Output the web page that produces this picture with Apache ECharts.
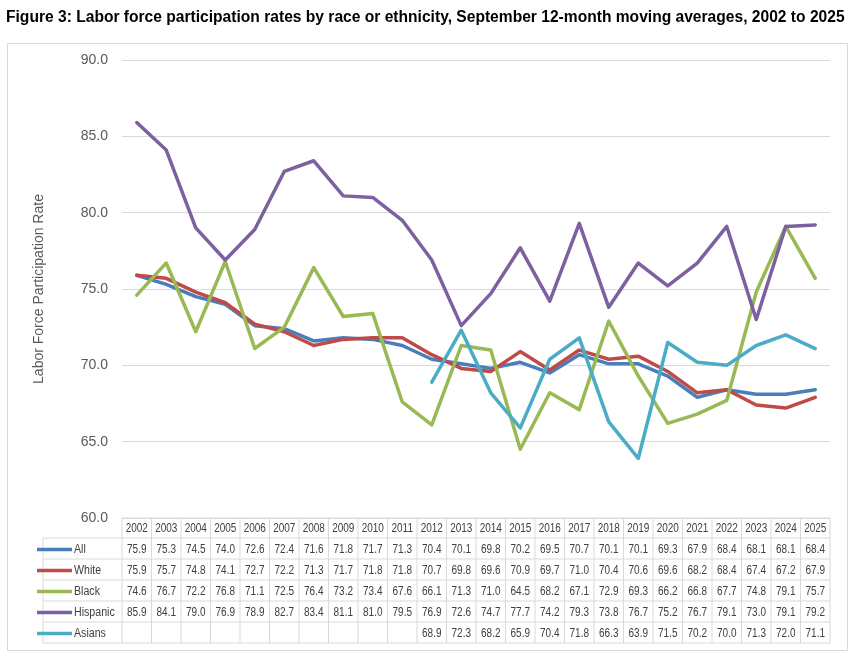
<!DOCTYPE html>
<html><head><meta charset="utf-8">
<script src="https://cdn.jsdelivr.net/npm/echarts@6/dist/echarts.min.js"></script>
<style>html,body{margin:0;padding:0;background:#fff;}#c{width:859px;height:658px;}</style>
</head><body><div id="c"></div>
<script>
const years = ['2002','2003','2004','2005','2006','2007','2008','2009','2010','2011','2012','2013','2014','2015','2016','2017','2018','2019','2020','2021','2022','2023','2024','2025'];
const allRate = [75.9,75.3,74.5,74.0,72.6,72.4,71.6,71.8,71.7,71.3,70.4,70.1,69.8,70.2,69.5,70.7,70.1,70.1,69.3,67.9,68.4,68.1,68.1,68.4];
const white = [75.9,75.7,74.8,74.1,72.7,72.2,71.3,71.7,71.8,71.8,70.7,69.8,69.6,70.9,69.7,71.0,70.4,70.6,69.6,68.2,68.4,67.4,67.2,67.9];
const black = [74.6,76.7,72.2,76.8,71.1,72.5,76.4,73.2,73.4,67.6,66.1,71.3,71.0,64.5,68.2,67.1,72.9,69.3,66.2,66.8,67.7,74.8,79.1,75.7];
const hispanic = [85.9,84.1,79.0,76.9,78.9,82.7,83.4,81.1,81.0,79.5,76.9,72.6,74.7,77.7,74.2,79.3,73.8,76.7,75.2,76.7,79.1,73.0,79.1,79.2];
const asians = [null,null,null,null,null,null,null,null,null,null,68.9,72.3,68.2,65.9,70.4,71.8,66.3,63.9,71.5,70.2,70.0,71.3,72.0,71.1];
const seriesNames = ['All','White','Black','Hispanic','Asians'];
const seriesData = [allRate, white, black, hispanic, asians];
const colors = ['#4A7EBB','#BE4B48','#98B954','#7D60A0','#4BACC6'];
const yTicks = {min:60, max:90, interval:5};

(function(){
const chart = echarts.init(document.getElementById('c'));
const FONT = '"Liberation Sans", Arial, sans-serif';
const option = {
  animation:false,
  title:{text:'Figure 3: Labor force participation rates by race or ethnicity, September 12-month moving averages, 2002 to 2025',
    left:1, top:5, textStyle:{fontFamily:FONT, fontWeight:'bold', fontSize:15.6, color:'#000'}},
  grid:{left:122, right:29, top:60, bottom:140},
  xAxis:{type:'category', data:years, boundaryGap:true,
    axisLabel:{show:false}, axisTick:{show:false},
    axisLine:{lineStyle:{color:'#d9d9d9'}}},
  yAxis:{type:'value', min:yTicks.min, max:yTicks.max, interval:yTicks.interval,
    name:'Labor Force Participation Rate', nameLocation:'middle', nameGap:76, nameRotate:90,
    nameTextStyle:{fontFamily:FONT, fontSize:14, color:'#595959'},
    axisLabel:{formatter:v=>v.toFixed(1), fontFamily:FONT, fontSize:14, color:'#595959', margin:14},
    axisLine:{show:false}, axisTick:{show:false},
    splitLine:{lineStyle:{color:'#d9d9d9'}}},
  series: seriesNames.map((n,i)=>({name:n, type:'line', data:seriesData[i], symbol:'none',
    lineStyle:{width:3.5, color:colors[i], cap:'round', join:'round'}, itemStyle:{color:colors[i]}, z:2+i}))
};
chart.setOption(option);

const g = [];
const x0 = chart.convertToPixel({xAxisIndex:0}, 0);
const x1 = chart.convertToPixel({xAxisIndex:0}, 1);
const bw = x1 - x0;
const tLeft = x0 - bw/2;
const tRight = chart.convertToPixel({xAxisIndex:0}, years.length-1) + bw/2;
const tTop = chart.convertToPixel({yAxisIndex:0}, yTicks.min);
const headerH = 20, rowH = 21;
const legLeft = 43;
const lineColor = '#d9d9d9';
const tBottom = tTop + headerH + rowH*seriesNames.length;
g.push({type:'rect', shape:{x:7.5,y:43.5,width:840,height:607}, style:{fill:null, stroke:lineColor, lineWidth:1}, z:0});
g.push({type:'line', shape:{x1:tLeft,y1:tTop,x2:tRight,y2:tTop}, style:{stroke:lineColor}});
for (let r=0;r<=seriesNames.length;r++){
  const y = tTop + headerH + rowH*r;
  g.push({type:'line', shape:{x1:legLeft,y1:y,x2:tRight,y2:y}, style:{stroke:lineColor}});
}
g.push({type:'line', shape:{x1:legLeft,y1:tTop+headerH,x2:legLeft,y2:tBottom}, style:{stroke:lineColor}});
for (let c=0;c<=years.length;c++){
  const x = tLeft + bw*c;
  g.push({type:'line', shape:{x1:x,y1:tTop,x2:x,y2:tBottom}, style:{stroke:lineColor}});
}
const tfont = {fontFamily:FONT, fontSize:12.5, fill:'#404040'};
const sx = 0.8;
years.forEach((yr,c)=>{
  const cx = chart.convertToPixel({xAxisIndex:0}, c);
  g.push({type:'text', x:cx, y:tTop+headerH/2+1, scaleX:sx, style:Object.assign({text:yr, align:'center', verticalAlign:'middle'}, tfont)});
});
seriesNames.forEach((n,r)=>{
  const cy = tTop + headerH + rowH*r + rowH/2 + 1;
  g.push({type:'line', shape:{x1:37,y1:cy,x2:72,y2:cy}, style:{stroke:colors[r], lineWidth:3.5}});
  g.push({type:'text', x:74, y:cy, scaleX:0.85, style:Object.assign({text:n, align:'left', verticalAlign:'middle'}, tfont)});
  seriesData[r].forEach((v,c)=>{
    if (v==null) return;
    const cx = chart.convertToPixel({xAxisIndex:0}, c);
    g.push({type:'text', x:cx, y:cy, scaleX:sx, style:Object.assign({text:v.toFixed(1), align:'center', verticalAlign:'middle'}, tfont)});
  });
});
chart.setOption({graphic:g.map(e=>Object.assign({silent:true}, e))});
})();
</script></body></html>
